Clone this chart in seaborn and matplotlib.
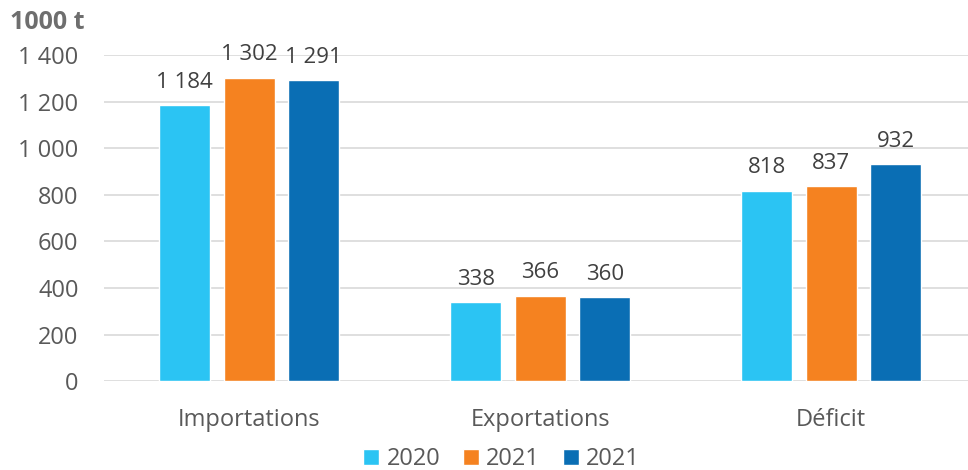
import pandas as pd
import matplotlib
matplotlib.use("Agg")
import matplotlib.pyplot as plt
import seaborn as sns
from matplotlib.ticker import FuncFormatter

sns.set_style("white")
plt.rcParams["font.family"] = ["Open Sans", "DejaVu Sans"]

BLEU_CLAIR = "#2BC4F3"
ORANGE = "#F58220"
BLEU_FONCE = "#0A6EB4"
GRIS = "#595959"

categories = ["Importations", "Exportations", "Déficit"]
series = ["2020", "2021", "2021"]
v_2020 = [1184, 338, 818]
v_2021a = [1302, 366, 837]
v_2021b = [1291, 360, 932]

# cles distinctes pour hue (deux series ont le meme libelle)
cles = ["s1", "s2", "s3"]
rows = []
for cle, vals in zip(cles, [v_2020, v_2021a, v_2021b]):
    for cat, v in zip(categories, vals):
        rows.append({"categorie": cat, "serie": cle, "valeur": v})
df = pd.DataFrame(rows)


def fmt(v):
    return f"{int(v):,}".replace(",", " ")


fig = plt.figure(figsize=(9.68, 4.70), dpi=100)
ax = fig.add_axes([0.107, 0.189, 0.902, 0.694])

sns.barplot(
    data=df, x="categorie", y="valeur", hue="serie",
    palette=[BLEU_CLAIR, ORANGE, BLEU_FONCE],
    width=0.665, gap=0.21, saturation=1, errorbar=None, ax=ax
)

for cont in ax.containers:
    ax.bar_label(cont, labels=[fmt(b.get_height()) for b in cont],
                 padding=9, fontsize=16, color="#404040")

ax.set_ylim(0, 1400)
ax.set_xlim(-0.5, 2.5)
ax.set_yticks(range(0, 1401, 200))
ax.yaxis.set_major_formatter(FuncFormatter(lambda v, p: fmt(v)))
ax.grid(axis="y", color="#D9D9D9", linewidth=1.2)
ax.set_axisbelow(True)
sns.despine(ax=ax, left=True, bottom=True, top=True, right=True)
ax.tick_params(axis="y", length=0, pad=18, labelsize=17, labelcolor=GRIS)
ax.tick_params(axis="x", length=0, pad=19, labelsize=17, labelcolor=GRIS)
ax.set_xlabel("")
ax.set_ylabel("")

fig.text(0.01, 0.953, "1000 t", fontsize=18, fontweight="bold",
         color="#6E6E6E", va="center")

handles, _ = ax.get_legend_handles_labels()
ax.legend(handles, series, loc="center", bbox_to_anchor=(0.518, 0.023),
          bbox_transform=fig.transFigure, ncol=3, frameon=False,
          fontsize=17, labelcolor=GRIS, handlelength=0.7, handleheight=0.7,
          handletextpad=0.3, columnspacing=0.95)

fig.savefig("out.png", dpi=100)
